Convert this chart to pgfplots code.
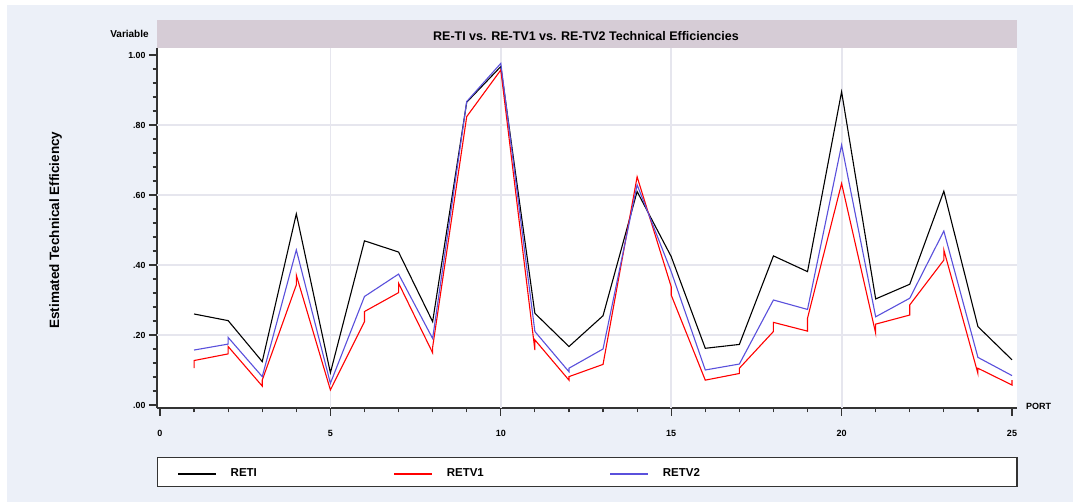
\documentclass[border=0pt]{standalone}
\usepackage{pgfplots}
\pgfplotsset{compat=1.18}
\usepackage{fontspec}
\setmainfont{Liberation Sans}
\definecolor{panel}{HTML}{ECF0F8}
\definecolor{band}{HTML}{D6CCD6}
\definecolor{gridc}{HTML}{E6E6EE}
\definecolor{axc}{HTML}{333333}
\definecolor{blu}{HTML}{5A50DC}
\begin{document}
\begin{tikzpicture}[x=1pt,y=1pt]
\useasboundingbox (0,0) rectangle (1073,502);
\fill[white] (0,0) rectangle (1073,502);
\fill[panel] (7,0) rectangle (1073,497);
\fill[band] (157,453) rectangle (1017,482);
\node[font=\bfseries\fontsize{10}{12}\selectfont, anchor=center] at (129.5,468) {Variable};
\begin{axis}[
  at={(157pt,94pt)}, anchor=south west,
  scale only axis, width=860pt, height=360pt,
  xmin=-0.088, xmax=25.147, ymin=-0.0086, ymax=1.02,
  axis background/.style={fill=white},
  axis x line*=bottom, axis y line*=left,
  every outer x axis line/.append style={-},
  every outer y axis line/.append style={-},
  axis line style={-, line width=1.6pt, color=axc},
  tick align=outside,
  major tick length=8pt, minor tick length=4.5pt,
  tick style={line width=1.2pt, color=axc},
  xtick={0,5,10,15,20,25}, xticklabels={0,5,10,15,20,25},
  minor x tick num=4,
  ytick={0,0.2,0.4,0.6,0.8,1}, yticklabels={.00,.20,.40,.60,.80,1.00},
  minor y tick num=4,
  extra x ticks={5,10,15,20}, extra x tick labels={},
  extra x tick style={grid=major, major tick length=0pt},
  extra y ticks={0.2,0.4,0.6,0.8}, extra y tick labels={},
  extra y tick style={grid=major, major tick length=0pt},
  major grid style={line width=1.8pt, draw=gridc},
  xticklabel style={font=\bfseries\fontsize{9}{10}\selectfont, yshift=-11pt},
  yticklabel style={font=\bfseries\fontsize{8.8}{10}\selectfont},
  title={RE-TI vs. RE-TV1 vs. RE-TV2 Technical Efficiencies},
  title style={at={(axis description cs:0.4988,1.0333)}, anchor=center, yshift=-6pt, font=\bfseries\fontsize{12.5}{14}\selectfont},
  ylabel={Estimated Technical Efficiency},
  ylabel style={at={(axis description cs:-0.118,0.494)}, anchor=center, font=\bfseries\fontsize{13.5}{15}\selectfont},
  xlabel={PORT},
  xlabel style={at={(axis description cs:1.025,0.004)}, anchor=center, font=\bfseries\fontsize{9}{10}\selectfont},
  legend style={at={(axis description cs:0,-0.1361)}, anchor=north west,
    draw=axc, line width=1.2pt, fill=white, inner xsep=0pt, inner ysep=10.5pt,
    font=\bfseries\fontsize{11.5}{13}\selectfont,
    nodes={inner sep=0pt, text height=8.2pt, text depth=0pt},
    column sep=0pt},
  legend columns=3, legend cell align=left,
  legend image code/.code={\path (-20pt,0pt); \draw[#1, line width=1.8pt] (0pt,-2pt) -- (38pt,-2pt); \path (52pt,0pt);},
]
\addplot[black, line width=1.1pt] coordinates {
(1,0.260) (2,0.241) (3,0.124) (4,0.546) (5,0.092) (6,0.469) (7,0.437) (8,0.238)
(9,0.865) (10,0.967) (11,0.262) (12,0.167) (13,0.255) (14,0.610) (15,0.424)
(16,0.162) (17,0.173) (18,0.426) (19,0.381) (20,0.895) (21,0.303) (22,0.345)
(23,0.611) (24,0.224) (25,0.129)};
\addlegendentry{\makebox[143pt][l]{RETI}}
\addplot[red, line width=1.1pt] coordinates {
(1,0.105) (1,0.127) (2,0.146) (2,0.167) (3,0.054) (3,0.071) (4,0.343) (4,0.371)
(5,0.043) (6,0.238) (6,0.267) (7,0.321) (7,0.348) (8,0.149) (8,0.165)
(9,0.824) (10,0.957) (11,0.157) (11,0.186) (12,0.071) (12,0.081) (13,0.116)
(14,0.652) (15,0.338) (15,0.314) (16,0.071) (17,0.090) (17,0.105)
(18,0.210) (18,0.236) (19,0.211) (19,0.248) (20,0.633) (21,0.205) (21,0.231)
(22,0.257) (22,0.286) (23,0.414) (23,0.443) (24,0.090) (24,0.105)
(25,0.057) (25,0.071)};
\addlegendentry{\makebox[143pt][l]{RETV1}}
\addplot[blu, line width=1.1pt] coordinates {
(1,0.157) (2,0.174) (2,0.193) (3,0.081) (4,0.443) (5,0.062) (6,0.310) (7,0.374)
(8,0.190) (9,0.867) (10,0.976) (11,0.210) (12,0.095) (12,0.105) (13,0.160)
(14,0.629) (15,0.381) (16,0.100) (17,0.117) (18,0.300) (19,0.273) (20,0.743)
(21,0.252) (22,0.305) (23,0.497) (24,0.136) (25,0.084)};
\addlegendentry{\makebox[354pt][l]{RETV2}}
\end{axis}
\end{tikzpicture}
\end{document}
